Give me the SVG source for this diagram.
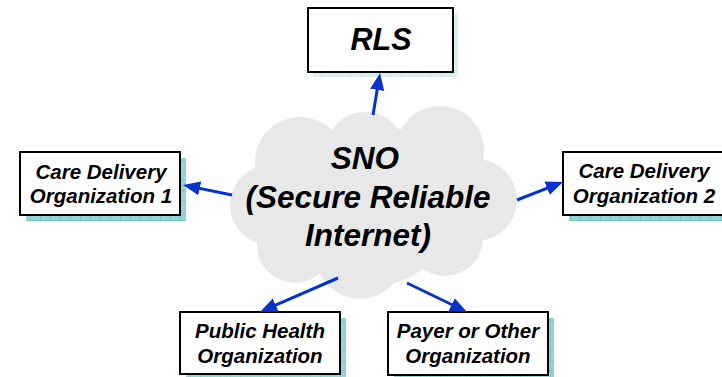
<svg xmlns="http://www.w3.org/2000/svg" width="722" height="377" viewBox="0 0 722 377">
<defs>
<pattern id="grid" width="10" height="10" patternUnits="userSpaceOnUse">
<rect width="10" height="10" fill="#97d4d4"/>
<path d="M0 0V10M0 0H10" stroke="#5fb9b9" stroke-width="1" fill="none"/>
</pattern>
<pattern id="gridLight" width="10" height="10" patternUnits="userSpaceOnUse">
<rect width="10" height="10" fill="#dceff1"/>
<path d="M0 0V10M0 0H10" stroke="#b9dfe2" stroke-width="1" fill="none"/>
</pattern>
<marker id="arr" viewBox="0 0 12 10" refX="8" refY="5" markerWidth="5.7" markerHeight="5" orient="auto" markerUnits="strokeWidth">
<path d="M0 0L12 5L0 10z" fill="#0533cc"/>
</marker>
</defs>
<style>
.box{fill:#fff;stroke:#000;stroke-width:2}
.shadow{fill:url(#grid)}
.t{font-family:"Liberation Sans",Arial,sans-serif;font-weight:bold;font-style:italic;fill:#000;text-anchor:middle}
.s{font-size:20.5px}
.conn line{stroke:#0533cc;stroke-width:3;marker-end:url(#arr)}
</style>
<g id="cloud">
<g fill="#e8e8e8">
<circle cx="300" cy="162" r="45"/>
<circle cx="365" cy="152" r="40"/>
<circle cx="440" cy="150" r="44"/>
<circle cx="476" cy="200" r="41"/>
<circle cx="270" cy="205" r="40"/>
<circle cx="295" cy="245" r="38"/>
<circle cx="360" cy="255" r="44"/>
<circle cx="445" cy="238" r="38"/>
<circle cx="375" cy="205" r="80"/>
</g>
<text class="t" x="365" y="169" font-size="31.5">SNO</text>
<text class="t" x="368" y="208" font-size="31.5">(Secure Reliable</text>
<text class="t" x="368" y="246" font-size="31.5">Internet)</text>
</g>
<g id="rls">
<rect x="313" y="13" width="145" height="64" fill="url(#gridLight)"/>
<rect class="box" x="308" y="8" width="145" height="64"/>
<text class="t" x="381" y="50" font-size="30.5">RLS</text>
</g>
<g id="cdo1">
<rect class="shadow" x="26" y="158" width="160" height="63"/>
<rect class="box" x="20" y="152" width="160" height="63"/>
<text class="t s" x="101" y="179">Care Delivery</text>
<text class="t s" x="101" y="203">Organization 1</text>
</g>
<g id="cdo2">
<rect class="shadow" x="569" y="158" width="160" height="63"/>
<rect class="box" x="563" y="152" width="160" height="63"/>
<text class="t s" x="644" y="178">Care Delivery</text>
<text class="t s" x="644" y="203">Organization 2</text>
</g>
<g id="pho">
<rect class="shadow" x="186" y="318" width="160" height="63"/>
<rect class="box" x="180" y="312" width="160" height="62"/>
<text class="t s" x="260" y="338">Public Health</text>
<text class="t s" x="260" y="363">Organization</text>
</g>
<g id="payer">
<rect class="shadow" x="394" y="318" width="160" height="63"/>
<rect class="box" x="388" y="312" width="160" height="63"/>
<text class="t s" x="468" y="338">Payer or Other</text>
<text class="t s" x="468" y="363">Organization</text>
</g>
<g id="connectors" class="conn">
<line x1="373" y1="115" x2="379.1" y2="78.6"/>
<line x1="232" y1="195" x2="188.6" y2="186.1"/>
<line x1="517" y1="200" x2="557.7" y2="184.1"/>
<line x1="338" y1="278" x2="265.2" y2="309.7"/>
<line x1="407" y1="283" x2="461.9" y2="309.5"/>
</g>
</svg>
